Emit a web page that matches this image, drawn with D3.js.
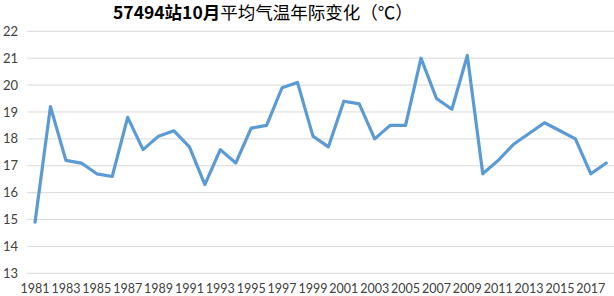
<!DOCTYPE html>
<html><head><meta charset="utf-8">
<script src="https://cdn.jsdelivr.net/npm/d3@7"></script>
<style>body{margin:0;background:#fff}svg{display:block}</style>
</head><body>
<svg id="c" width="614" height="296"></svg>
<script>
const years = d3.range(1981, 2019);
const temps = [14.9,19.2,17.2,17.1,16.7,16.6,18.8,17.6,18.1,18.3,17.7,16.3,17.6,17.1,18.4,18.5,19.9,20.1,18.1,17.7,19.4,19.3,18.0,18.5,18.5,21.0,19.5,19.1,21.1,16.7,17.2,17.8,18.2,18.6,18.3,18.0,16.7,17.1];
const yTicks = [13,14,15,16,17,18,19,20,21,22];
const xTickLabels = years.filter((y,i)=>i%2===0);
const titleBold = "57494站10月";
const titleRest = "平均气温年际变化（℃）";

(function(){
const svg = d3.select("#c");
const mL = 27.3, mR = 614, mT = 31.3, mB = 273.3;
const x = d3.scaleBand().domain(years).range([mL, mR]);
const y = d3.scaleLinear().domain([13,22]).range([mB, mT]);

svg.append("g").selectAll("line").data(yTicks).join("line")
  .attr("x1", mL).attr("x2", mR)
  .attr("y1", d=>y(d)).attr("y2", d=>y(d))
  .attr("stroke", "#d9d9d9").attr("stroke-width", 1);

svg.append("g").selectAll("text").data(yTicks).join("text")
  .attr("x", 18).attr("y", d=>y(d)).attr("dy","0.35em")
  .attr("text-anchor","end")
  .attr("font-family","Lato, 'Open Sans', sans-serif").attr("font-size",13).attr("fill","#404040")
  .text(d=>d);

svg.append("g").selectAll("text").data(xTickLabels).join("text")
  .attr("x", d=>x(d)+x.bandwidth()/2).attr("y", 292.5)
  .attr("text-anchor","middle")
  .attr("font-family","Lato, 'Open Sans', sans-serif").attr("font-size",12.5).attr("fill","#404040")
  .text(d=>d);

const line = d3.line().x((d,i)=>x(years[i])+x.bandwidth()/2).y(d=>y(d));
svg.append("path").datum(temps).attr("d", line)
  .attr("fill","none").attr("stroke","#5b9bd5").attr("stroke-width",3.2)
  .attr("stroke-linejoin","round").attr("stroke-linecap","round");

const t = svg.append("text").attr("x", 113).attr("y", 18.5)
  .attr("font-family","'Noto Sans CJK SC', sans-serif").attr("font-size",17.5).attr("fill","#000");
t.append("tspan").attr("font-weight","bold").text(titleBold);
t.append("tspan").text(titleRest);
})();
</script>
</body></html>
